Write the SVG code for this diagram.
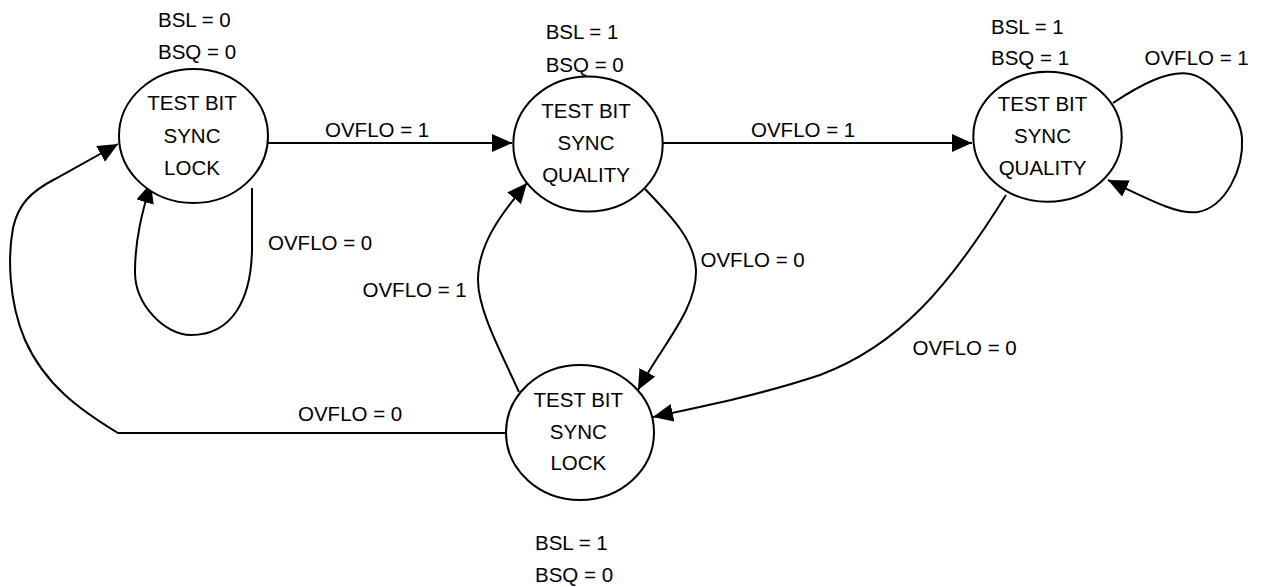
<svg xmlns="http://www.w3.org/2000/svg" width="1265" height="587" viewBox="0 0 1265 587">
<defs>
<style>
.n{fill:#fff;stroke:#000;stroke-width:2}
.t{font-family:"Liberation Sans",Arial,sans-serif;font-size:20.5px;fill:#000}
.m{text-anchor:middle}
.e{fill:none;stroke:#000;stroke-width:2}
</style>
<marker id="ah" markerUnits="userSpaceOnUse" markerWidth="22" markerHeight="20" refX="20" refY="9" orient="auto">
<path d="M0,0 L20,9 L0,18 z" fill="#000"/>
</marker>
</defs>
<rect width="1265" height="587" fill="#fff"/>
<g id="connectors">
<path class="e" marker-end="url(#ah)" d="M268 143 L512 143"/>
<path class="e" marker-end="url(#ah)" d="M663 143 L972 143"/>
<path class="e" marker-end="url(#ah)" d="M252 188 L252 250 C251 300 232 335 191 335 C165 335 135 305 135 272 C135 240 142 212 151 183"/>
<path class="e" marker-end="url(#ah)" d="M505 433 L118 433 C80 410 45 385 25 340 C8 300 8 255 13 228 C18 205 30 192 55 179 C75 168 95 157 118 144"/>
<path class="e" marker-end="url(#ah)" d="M519 392 C500 350 478 310 478 280 C478 245 500 215 527 183"/>
<path class="e" marker-end="url(#ah)" d="M645 189 C670 215 695 240 696 270 C697 310 662 345 638 390"/>
<path class="e" marker-end="url(#ah)" d="M1006 195 C950 285 900 345 820 375 C760 395 700 407 653 417"/>
<path class="e" marker-end="url(#ah)" d="M1113 103 C1140 85 1168 70 1190 74 C1210 78 1240 112 1242 138 C1244 170 1225 207 1198 212 C1178 215 1150 200 1108 180"/>
<text class="t" x="325" y="137">OVFLO = 1</text>
<text class="t" x="751" y="137">OVFLO = 1</text>
<text class="t" x="268" y="250">OVFLO = 0</text>
<text class="t" x="298" y="421">OVFLO = 0</text>
<text class="t" x="362.5" y="297">OVFLO = 1</text>
<text class="t" x="700.5" y="267">OVFLO = 0</text>
<text class="t" x="912.5" y="355">OVFLO = 0</text>
<text class="t" x="1144.5" y="65">OVFLO = 1</text>
</g>
<g id="node1">
<ellipse class="n" cx="193.5" cy="136" rx="74.5" ry="67"/>
<text class="t m" x="192" y="110">TEST BIT</text>
<text class="t m" x="192" y="142.5">SYNC</text>
<text class="t m" x="192" y="174.5">LOCK</text>
<text class="t" x="158" y="26.5">BSL = 0</text>
<text class="t" x="158" y="58.5">BSQ = 0</text>
</g>
<g id="node2">
<ellipse class="n" cx="588" cy="144" rx="74.7" ry="67.5"/>
<text class="t m" x="586" y="118">TEST BIT</text>
<text class="t m" x="586" y="150">SYNC</text>
<text class="t m" x="586" y="182">QUALITY</text>
<text class="t" x="545.7" y="39">BSL = 1</text>
<text class="t" x="545.7" y="71.5">BSQ = 0</text>
</g>
<g id="node3">
<ellipse class="n" cx="1047.5" cy="136.7" rx="74.2" ry="65"/>
<text class="t m" x="1042.5" y="111">TEST BIT</text>
<text class="t m" x="1042.5" y="143">SYNC</text>
<text class="t m" x="1042.5" y="175">QUALITY</text>
<text class="t" x="991" y="34">BSL = 1</text>
<text class="t" x="991" y="65">BSQ = 1</text>
</g>
<g id="node4">
<ellipse class="n" cx="580" cy="432.5" rx="74" ry="67.5"/>
<text class="t m" x="578.3" y="406.5">TEST BIT</text>
<text class="t m" x="578.3" y="438.5">SYNC</text>
<text class="t m" x="578.3" y="470">LOCK</text>
<text class="t" x="535" y="550">BSL = 1</text>
<text class="t" x="535" y="581.5">BSQ = 0</text>
</g>
</svg>
